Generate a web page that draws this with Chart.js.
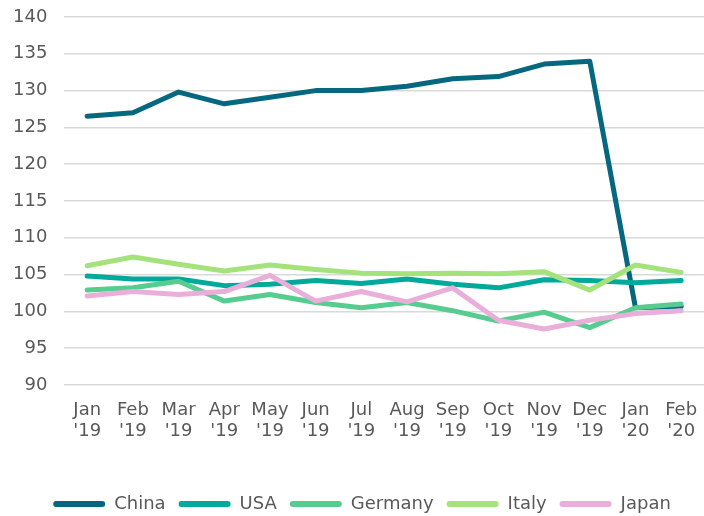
<!DOCTYPE html>
<html>
<head>
<meta charset="utf-8">
<script src="https://cdn.jsdelivr.net/npm/chart.js@4/dist/chart.umd.min.js"></script>
<style>
  html, body { margin: 0; padding: 0; background: #fff; }
  #wrap { width: 704px; height: 516px; }
</style>
</head>
<body>
<div id="wrap"><canvas id="chart" width="704" height="516"></canvas></div>
<script>
// Monthly index values, Jan 2019 - Feb 2020
const months = [
    ['Jan', "'19"], ['Feb', "'19"], ['Mar', "'19"], ['Apr', "'19"], ['May', "'19"],
    ['Jun', "'19"], ['Jul', "'19"], ['Aug', "'19"], ['Sep', "'19"], ['Oct', "'19"],
    ['Nov', "'19"], ['Dec', "'19"], ['Jan', "'20"], ['Feb', "'20"]
];
const china   = [126.5, 127.0, 129.8, 128.2, 129.1, 130.0, 130.0, 130.6, 131.6, 131.9, 133.6, 134.0, 100.5, 100.7];
const usa     = [104.8, 104.4, 104.4, 103.5, 103.7, 104.2, 103.8, 104.4, 103.7, 103.2, 104.3, 104.2, 103.9, 104.2];
const germany = [102.9, 103.2, 104.1, 101.4, 102.3, 101.2, 100.5, 101.2, 100.1, 98.7, 99.9, 97.8, 100.5, 101.0];
const italy   = [106.2, 107.4, 106.4, 105.5, 106.3, 105.7, 105.2, 105.1, 105.2, 105.1, 105.4, 102.9, 106.3, 105.3];
const japan   = [102.1, 102.7, 102.3, 102.7, 104.9, 101.4, 102.7, 101.3, 103.2, 98.8, 97.6, 98.8, 99.7, 100.1];

const yTicks = { min: 90, max: 140, step: 5 };

const fontFamily = '"DejaVu Sans", Verdana, sans-serif';
const textColor = '#595959';

function series(label, data, color, order) {
    return {
        label: label,
        data: data,
        borderColor: color,
        backgroundColor: color,
        borderWidth: 5,
        borderCapStyle: 'round',
        borderJoinStyle: 'round',
        pointRadius: 0,
        tension: 0,
        order: order
    };
}

// nudge the legend row a little to the right, like the original
const legendShift = {
    id: 'legendShift',
    afterLayout(chart) {
        chart.legend.left += 12;
        chart.legend.right += 12;
    }
};

const ctx = document.getElementById('chart').getContext('2d');
new Chart(ctx, {
    type: 'line',
    data: {
        labels: months,
        datasets: [
            series('China', china, '#05687f', 5),
            series('USA', usa, '#00a99a', 4),
            series('Germany', germany, '#56cc8e', 3),
            series('Italy', italy, '#a4e37c', 2),
            series('Japan', japan, '#e9aed9', 1)
        ]
    },
    plugins: [legendShift],
    options: {
        responsive: false,
        animation: false,
        layout: { padding: { left: -4, right: 0, top: 17, bottom: -7 } },
        plugins: {
            tooltip: { enabled: false },
            legend: {
                position: 'bottom',
                labels: {
                    color: textColor,
                    font: { family: fontFamily, size: 18, lineHeight: 1 },
                    boxWidth: 52,
                    boxHeight: 6,
                    padding: 13,
                    useBorderRadius: true,
                    borderRadius: 3,
                    sort: (a, b) => a.datasetIndex - b.datasetIndex,
                    generateLabels: (chart) => {
                        const items = Chart.defaults.plugins.legend.labels.generateLabels(chart);
                        items.forEach((it) => { it.lineWidth = 0; });
                        return items;
                    }
                }
            }
        },
        scales: {
            x: {
                offset: true,
                grid: { display: false },
                border: { display: false },
                ticks: {
                    color: textColor,
                    font: { family: fontFamily, size: 18, lineHeight: 1.15 },
                    padding: 7,
                    maxRotation: 0,
                    autoSkip: false
                },
                afterFit: (scale) => {
                    scale.height = 97;
                    scale.paddingLeft = 0;
                    scale.paddingRight = 0;
                }
            },
            y: {
                min: yTicks.min,
                max: yTicks.max,
                grid: { color: '#d9d9d9', lineWidth: 1.5, drawTicks: false },
                border: { display: false },
                ticks: {
                    stepSize: yTicks.step,
                    color: textColor,
                    font: { family: fontFamily, size: 18 },
                    padding: 17
                },
                afterFit: (scale) => {
                    scale.paddingTop = 0;
                    scale.paddingBottom = 0;
                }
            }
        }
    }
});
</script>
</body>
</html>
